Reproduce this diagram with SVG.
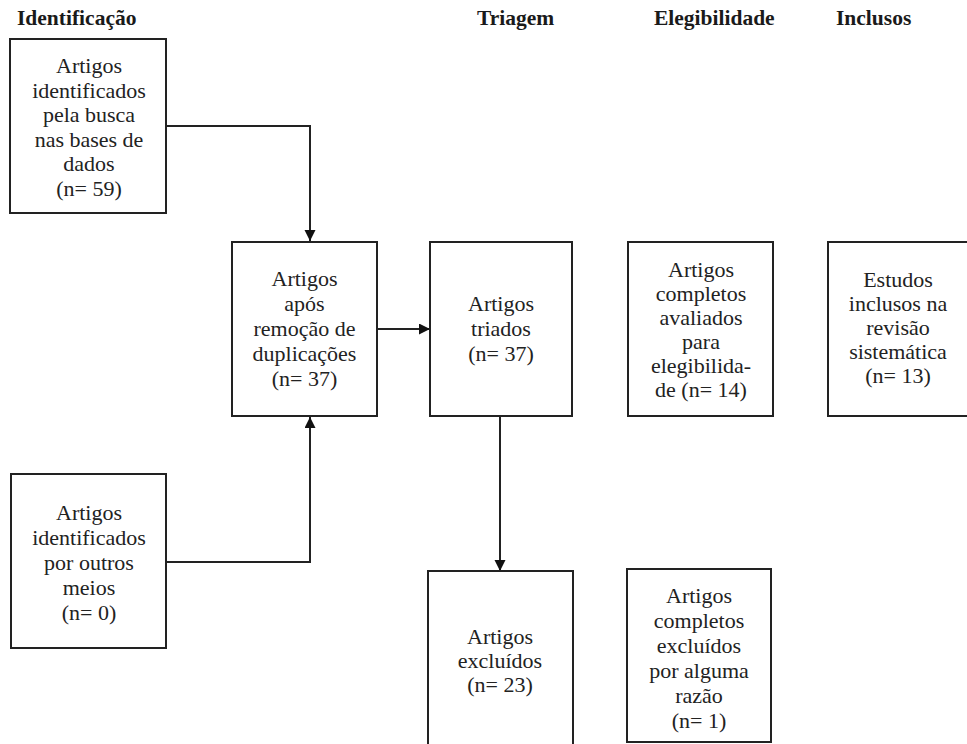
<svg xmlns="http://www.w3.org/2000/svg" width="967" height="744" viewBox="0 0 967 744">
<style>
.hdr{font-family:'Liberation Serif','Tinos','DejaVu Serif',serif;font-weight:bold;font-size:21.5px;fill:#1a1a1a}
.box{fill:#fff;stroke:#222;stroke-width:2}
.t{font-family:'Liberation Serif','Tinos','DejaVu Serif',serif;font-size:22px;fill:#222;text-anchor:middle}
.c{fill:none;stroke:#222;stroke-width:2}
</style>
<defs>
<marker id="ah" markerWidth="12" markerHeight="12" refX="11" refY="5.5" orient="auto" markerUnits="userSpaceOnUse">
<path d="M0,0 L11,5.5 L0,11 Z" fill="#111"/>
</marker>
</defs>
<rect width="967" height="744" fill="#fff"/>
<g id="headers">
<text class="hdr" x="17" y="25">Identificação</text>
<text class="hdr" x="477" y="25">Triagem</text>
<text class="hdr" x="654" y="25">Elegibilidade</text>
<text class="hdr" x="836" y="25">Inclusos</text>
</g>
<g id="connectors">
<path class="c" d="M166,126 H310 V241" marker-end="url(#ah)"/>
<path class="c" d="M166,562 H310 V417" marker-end="url(#ah)"/>
<path class="c" d="M377,329 H430" marker-end="url(#ah)"/>
<path class="c" d="M500,416 V571" marker-end="url(#ah)"/>
</g>
<g id="n1">
<rect class="box" x="10" y="39" width="156" height="174"/>
<text class="t" x="89" y="73">Artigos</text>
<text class="t" x="89" y="97.6">identificados</text>
<text class="t" x="89" y="122.2">pela busca</text>
<text class="t" x="89" y="146.8">nas bases de</text>
<text class="t" x="89" y="171.4">dados</text>
<text class="t" x="89" y="196">(n= 59)</text>
</g>
<g id="n2">
<rect class="box" x="232" y="242" width="145" height="174"/>
<text class="t" x="304.5" y="286">Artigos</text>
<text class="t" x="304.5" y="311">após</text>
<text class="t" x="304.5" y="336">remoção de</text>
<text class="t" x="304.5" y="361">duplicações</text>
<text class="t" x="304.5" y="386">(n= 37)</text>
</g>
<g id="n3">
<rect class="box" x="430" y="242" width="142" height="174"/>
<text class="t" x="501" y="311">Artigos</text>
<text class="t" x="501" y="336">triados</text>
<text class="t" x="501" y="361">(n= 37)</text>
</g>
<g id="n4">
<rect class="box" x="628" y="242" width="145" height="174"/>
<text class="t" x="701" y="277">Artigos</text>
<text class="t" x="701" y="301">completos</text>
<text class="t" x="701" y="325">avaliados</text>
<text class="t" x="701" y="349">para</text>
<text class="t" x="701" y="373">elegibilida-</text>
<text class="t" x="701" y="397">de (n= 14)</text>
</g>
<g id="n5">
<rect class="box" x="828" y="242" width="142" height="174"/>
<text class="t" x="898" y="287">Estudos</text>
<text class="t" x="898" y="311">inclusos na</text>
<text class="t" x="898" y="335">revisão</text>
<text class="t" x="898" y="359">sistemática</text>
<text class="t" x="898" y="383">(n= 13)</text>
</g>
<g id="n6">
<rect class="box" x="11" y="474" width="155" height="174"/>
<text class="t" x="89" y="520">Artigos</text>
<text class="t" x="89" y="545">identificados</text>
<text class="t" x="89" y="570">por outros</text>
<text class="t" x="89" y="595">meios</text>
<text class="t" x="89" y="620">(n= 0)</text>
</g>
<g id="n7">
<rect class="box" x="428" y="571" width="145" height="174"/>
<text class="t" x="500" y="644">Artigos</text>
<text class="t" x="500" y="668">excluídos</text>
<text class="t" x="500" y="692">(n= 23)</text>
</g>
<g id="n8">
<rect class="box" x="627" y="569" width="144" height="173"/>
<text class="t" x="699" y="603">Artigos</text>
<text class="t" x="699" y="628">completos</text>
<text class="t" x="699" y="653">excluídos</text>
<text class="t" x="699" y="678">por alguma</text>
<text class="t" x="699" y="703">razão</text>
<text class="t" x="699" y="728">(n= 1)</text>
</g>
</svg>
